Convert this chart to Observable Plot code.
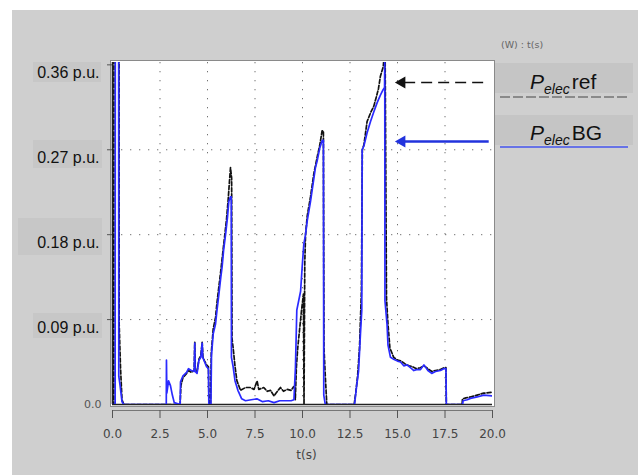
<!DOCTYPE html>
<html><head><meta charset="utf-8">
<script src="https://cdn.jsdelivr.net/npm/d3@7"></script>
<script src="https://cdn.jsdelivr.net/npm/@observablehq/plot@0.6"></script>
<style>
body{margin:0;background:#fff;}
#wrap{position:relative;width:638px;height:475px;overflow:hidden;}
#bg{position:absolute;left:12px;top:10px;right:0;bottom:0;background:#cfcfcf;}
#under{position:absolute;left:0;top:0;}
#chart{position:absolute;left:0;top:0;}
#over{position:absolute;left:0;top:0;pointer-events:none;}
</style></head><body>
<div id="wrap"><div id="bg"></div><svg id="under" width="638" height="475"></svg><div id="chart"></div><svg id="over" width="638" height="475"></svg></div>
<script>
// ---- data ----
const xTicks = [0, 2.5, 5, 7.5, 10, 12.5, 15, 17.5, 20];
const xGrid = [2.5, 5, 7.5, 10, 12.5, 15, 17.5];
const yTicks = [0.09, 0.18, 0.27, 0.36];
const yTickLabels = ["0.09 p.u.", "0.18 p.u.", "0.27 p.u.", "0.36 p.u."];
const yZeroLabel = ["0.0"];
const xLabel = ["t(s)"];
const unitsNote = "(W) : t(s)";

// P_elec BG (blue)
const bgT = [0,0.14,0.15,0.32,0.33,0.4,0.5,0.6,2.83,2.84,2.86,2.95,3.05,3.15,3.25,3.56,3.58,3.7,3.9,4.0,4.15,4.3,4.33,4.35,4.45,4.55,4.65,4.72,4.75,4.85,4.95,5.05,5.07,5.18,5.21,5.3,5.42,5.5,5.6,5.7,5.77,5.85,5.95,6.05,6.12,6.2,6.25,6.26,6.35,6.45,6.6,6.8,7.0,7.3,7.6,7.9,8.2,8.5,8.8,9.1,9.4,9.55,9.63,9.7,9.8,9.9,9.98,10.07,10.16,10.25,10.42,10.6,10.68,10.77,10.91,11.04,11.1,11.12,11.2,12.74,12.85,12.95,13.05,13.12,13.14,13.23,13.4,13.58,13.75,13.93,14.1,14.25,14.32,14.33,14.34,14.45,14.5,14.63,14.8,15.0,15.16,15.33,15.5,15.68,15.86,16.0,16.21,16.39,16.6,16.8,17.0,17.26,17.43,17.55,17.57,18.43,18.45,18.67,18.84,19.19,19.54,20];
const bgV = [0,0,0.6,0.6,0.03,0.02,0.003,0,0,0.047,0.012,0.025,0.02,0.01,0.002,0,0.024,0.03,0.034,0.038,0.036,0.035,0.065,0.035,0.033,0.047,0.05,0.065,0.05,0.045,0.04,0.038,0,0,0.052,0.075,0.085,0.1,0.117,0.135,0.146,0.164,0.18,0.198,0.215,0.22,0.22,0.05,0.04,0.025,0.015,0.006,0.004,0.005,0.006,0.003,0.004,0.002,0.004,0.004,0.004,0.005,0.04,0.1,0.11,0.12,0.145,0.17,0.18,0.195,0.215,0.24,0.251,0.258,0.272,0.28,0.28,0.01,0,0,0.02,0.035,0.075,0.1,0.27,0.274,0.288,0.3,0.31,0.32,0.328,0.334,0.336,0.37,0.11,0.085,0.063,0.05,0.048,0.046,0.045,0.041,0.042,0.039,0.036,0.037,0.037,0.042,0.036,0.033,0.035,0.036,0.038,0.038,0,0,0.004,0.005,0.0065,0.008,0.01,0.009];

// P_elec ref (black dashed)
const refT = [0,0.07,0.08,0.34,0.35,0.42,0.5,0.6,3.56,3.6,3.7,3.9,4.0,4.15,4.3,4.33,4.36,4.45,4.55,4.65,4.72,4.76,4.85,4.95,5.05,5.08,5.16,5.2,5.3,5.42,5.5,5.6,5.7,5.8,5.9,6.0,6.08,6.15,6.21,6.27,6.29,6.35,6.45,6.55,6.74,7.0,7.26,7.45,7.61,7.7,7.96,8.15,8.32,8.5,8.6,8.84,9.0,9.2,9.4,9.54,9.6,9.62,9.68,9.75,9.85,9.95,10.05,10.08,10.12,10.16,10.25,10.42,10.6,10.77,10.91,11.03,11.1,11.13,11.2,11.28,12.72,12.8,12.9,13.0,13.05,13.1,13.15,13.23,13.4,13.6,13.75,13.9,14.0,14.1,14.25,14.3,14.35,14.42,14.5,14.6,14.8,15.0,15.2,15.4,15.6,15.8,16.0,16.2,16.4,16.6,16.8,17.0,17.26,17.45,17.55,17.57,18.4,18.42,18.6,18.84,19.19,19.54,20];
const refV = [0,0,0.6,0.6,0.086,0.04,0.005,0,0,0.02,0.028,0.033,0.036,0.034,0.036,0.066,0.036,0.035,0.048,0.052,0.066,0.05,0.046,0.042,0.04,0,0,0.055,0.08,0.092,0.108,0.125,0.142,0.16,0.178,0.196,0.215,0.235,0.251,0.24,0.07,0.06,0.04,0.025,0.015,0.018,0.018,0.016,0.025,0.016,0.018,0.014,0.015,0.009,0.012,0.018,0.014,0.016,0.015,0.019,0.016,0.005,0.04,0.06,0.08,0.1,0.117,0,0.15,0.18,0.2,0.22,0.245,0.262,0.275,0.29,0.29,0.06,0.03,0,0,0.012,0.03,0.06,0.09,0.12,0.27,0.275,0.3,0.31,0.316,0.327,0.335,0.348,0.358,0.37,0.37,0.113,0.085,0.06,0.05,0.047,0.046,0.043,0.041,0.04,0.038,0.039,0.041,0.038,0.035,0.036,0.037,0.039,0.039,0,0,0.006,0.007,0.008,0.01,0.012,0.013];

// annotation arrows (data units): [ref, BG]
const arrowNames = ["ref", "BG"];
const arrowLevel = [0.3413, 0.2788];
const arrowHeadT = 15.23;
const arrowStartT = 15.35;
const arrowEndT = 19.8;

// ---- build ----
const bg = bgT.map((t, i) => ({t, v: bgV[i]}));
const ref = refT.map((t, i) => ({t, v: refV[i]}));
const arrows = arrowNames.map((n, i) => ({n, y: arrowLevel[i]}));
const BLUE = "#2a2aff";

const chart = Plot.plot({
  width: 638, height: 475,
  marginLeft: 112, marginRight: 146, marginTop: 62, marginBottom: 71,
  style: {background: "transparent", fontFamily: "'DejaVu Sans', sans-serif", color: "#444", overflow: "visible"},
  x: {domain: [0, 20], axis: null, label: null},
  y: {domain: [0, 0.3625], axis: null, label: null},
  marks: [
    Plot.frame({fill: "white", stroke: "#8a8a8a", inset: -2}),
    Plot.gridX(xGrid, {stroke: "#444", strokeOpacity: 0.75, strokeDasharray: "1.3,7.7"}),
    Plot.gridY([0.09, 0.18, 0.27], {stroke: "#444", strokeOpacity: 0.75, strokeDasharray: "1.3,7.7"}),
    Plot.ruleX([0], {stroke: "#222", strokeWidth: 1.6}),
    Plot.ruleY([0], {stroke: "#222", strokeWidth: 1.6}),
    Plot.line(ref, {x: "t", y: "v", stroke: "#111", strokeWidth: 1.7, strokeDasharray: "4,2", clip: true}),
    Plot.line(bg, {x: "t", y: "v", stroke: BLUE, strokeWidth: 1.7, clip: true}),
    // arrows
    Plot.link(arrows.filter(d => d.n === "ref"), {x1: arrowStartT, x2: arrowEndT, y1: "y", y2: "y", stroke: "#111", strokeWidth: 1.4, strokeDasharray: "11,6"}),
    Plot.link(arrows.filter(d => d.n === "BG"), {x1: arrowStartT, x2: arrowEndT, y1: "y", y2: "y", stroke: "#2233dd", strokeWidth: 2.6}),
    Plot.dot(arrows, {x: arrowHeadT, y: "y", symbol: "triangle", r: 4.5, rotate: -90, fill: d => d.n === "ref" ? "#111" : "#2233dd", stroke: null}),
    // axes
    Plot.ruleY([0], {stroke: "#777", dy: 6}),
    Plot.axisX(xTicks, {tickSize: 8, dy: 6, tickPadding: 11, tickFormat: d => d.toFixed(1), fontSize: 12, stroke: "#555", fill: "#444", label: null}),
    Plot.axisY(yTicks, {tickSize: 5, tickFormat: () => "", stroke: "#555", label: null}),
    Plot.text(yTicks, {y: d => d, frameAnchor: "left", text: (d, i) => yTickLabels[i], textAnchor: "end", dx: -13, dy: 8, fontSize: 16, fontWeight: 500, fontFamily: "'Liberation Sans', Arial, sans-serif", fill: "#111"}),
    Plot.text([0], {y: d => d, frameAnchor: "left", text: () => yZeroLabel[0], textAnchor: "end", dx: -11, dy: 0, fontSize: 11, fill: "#555"}),
    Plot.text(xLabel, {frameAnchor: "bottom", text: d => d, dx: 4, dy: 54, fontSize: 12, fill: "#444"})
  ]
});
document.getElementById("chart").appendChild(chart);

// label boxes behind y tick labels (decoration)
const u = d3.select("#under");
[[33, 62, 68, 20], [33, 140, 69, 28], [18, 218, 84, 37], [33, 313, 69, 25]].forEach(([x, y, w, h]) =>
  u.append("rect").attr("x", x).attr("y", y).attr("width", w).attr("height", h).attr("fill", "#c7c7c7"));

// legend / notes overlay
const o = d3.select("#over");
o.append("text").attr("x", 501).attr("y", 48).attr("font-size", 9.5).attr("fill", "#666")
  .attr("font-family", "DejaVu Sans, sans-serif").text(unitsNote);
const legend = [
  {name: "ref", top: 63, base: 89, line: 97, stroke: "#8a8a8a", dash: "10,3", w: 2},
  {name: "BG", top: 115, base: 140, line: 147, stroke: "#4455ee", dash: null, w: 1.5}
];
legend.forEach(L => {
  o.append("rect").attr("x", 495).attr("y", L.top).attr("width", 138).attr("height", 30).attr("fill", "#c5c5c5");
  const t = o.append("text").attr("x", 530).attr("y", L.base).attr("font-size", 21)
    .attr("font-family", "'Liberation Sans', Arial, sans-serif").attr("fill", "#111");
  t.append("tspan").attr("font-style", "italic").text("P");
  t.append("tspan").attr("font-style", "italic").attr("font-size", 14).attr("dy", 5).text("elec");
  t.append("tspan").attr("dy", -5).attr("dx", 2).text(L.name);
  o.append("line").attr("x1", 500).attr("x2", 628).attr("y1", L.line).attr("y2", L.line)
    .attr("stroke", L.stroke).attr("stroke-width", L.w).attr("stroke-dasharray", L.dash);
});
</script></body></html>
